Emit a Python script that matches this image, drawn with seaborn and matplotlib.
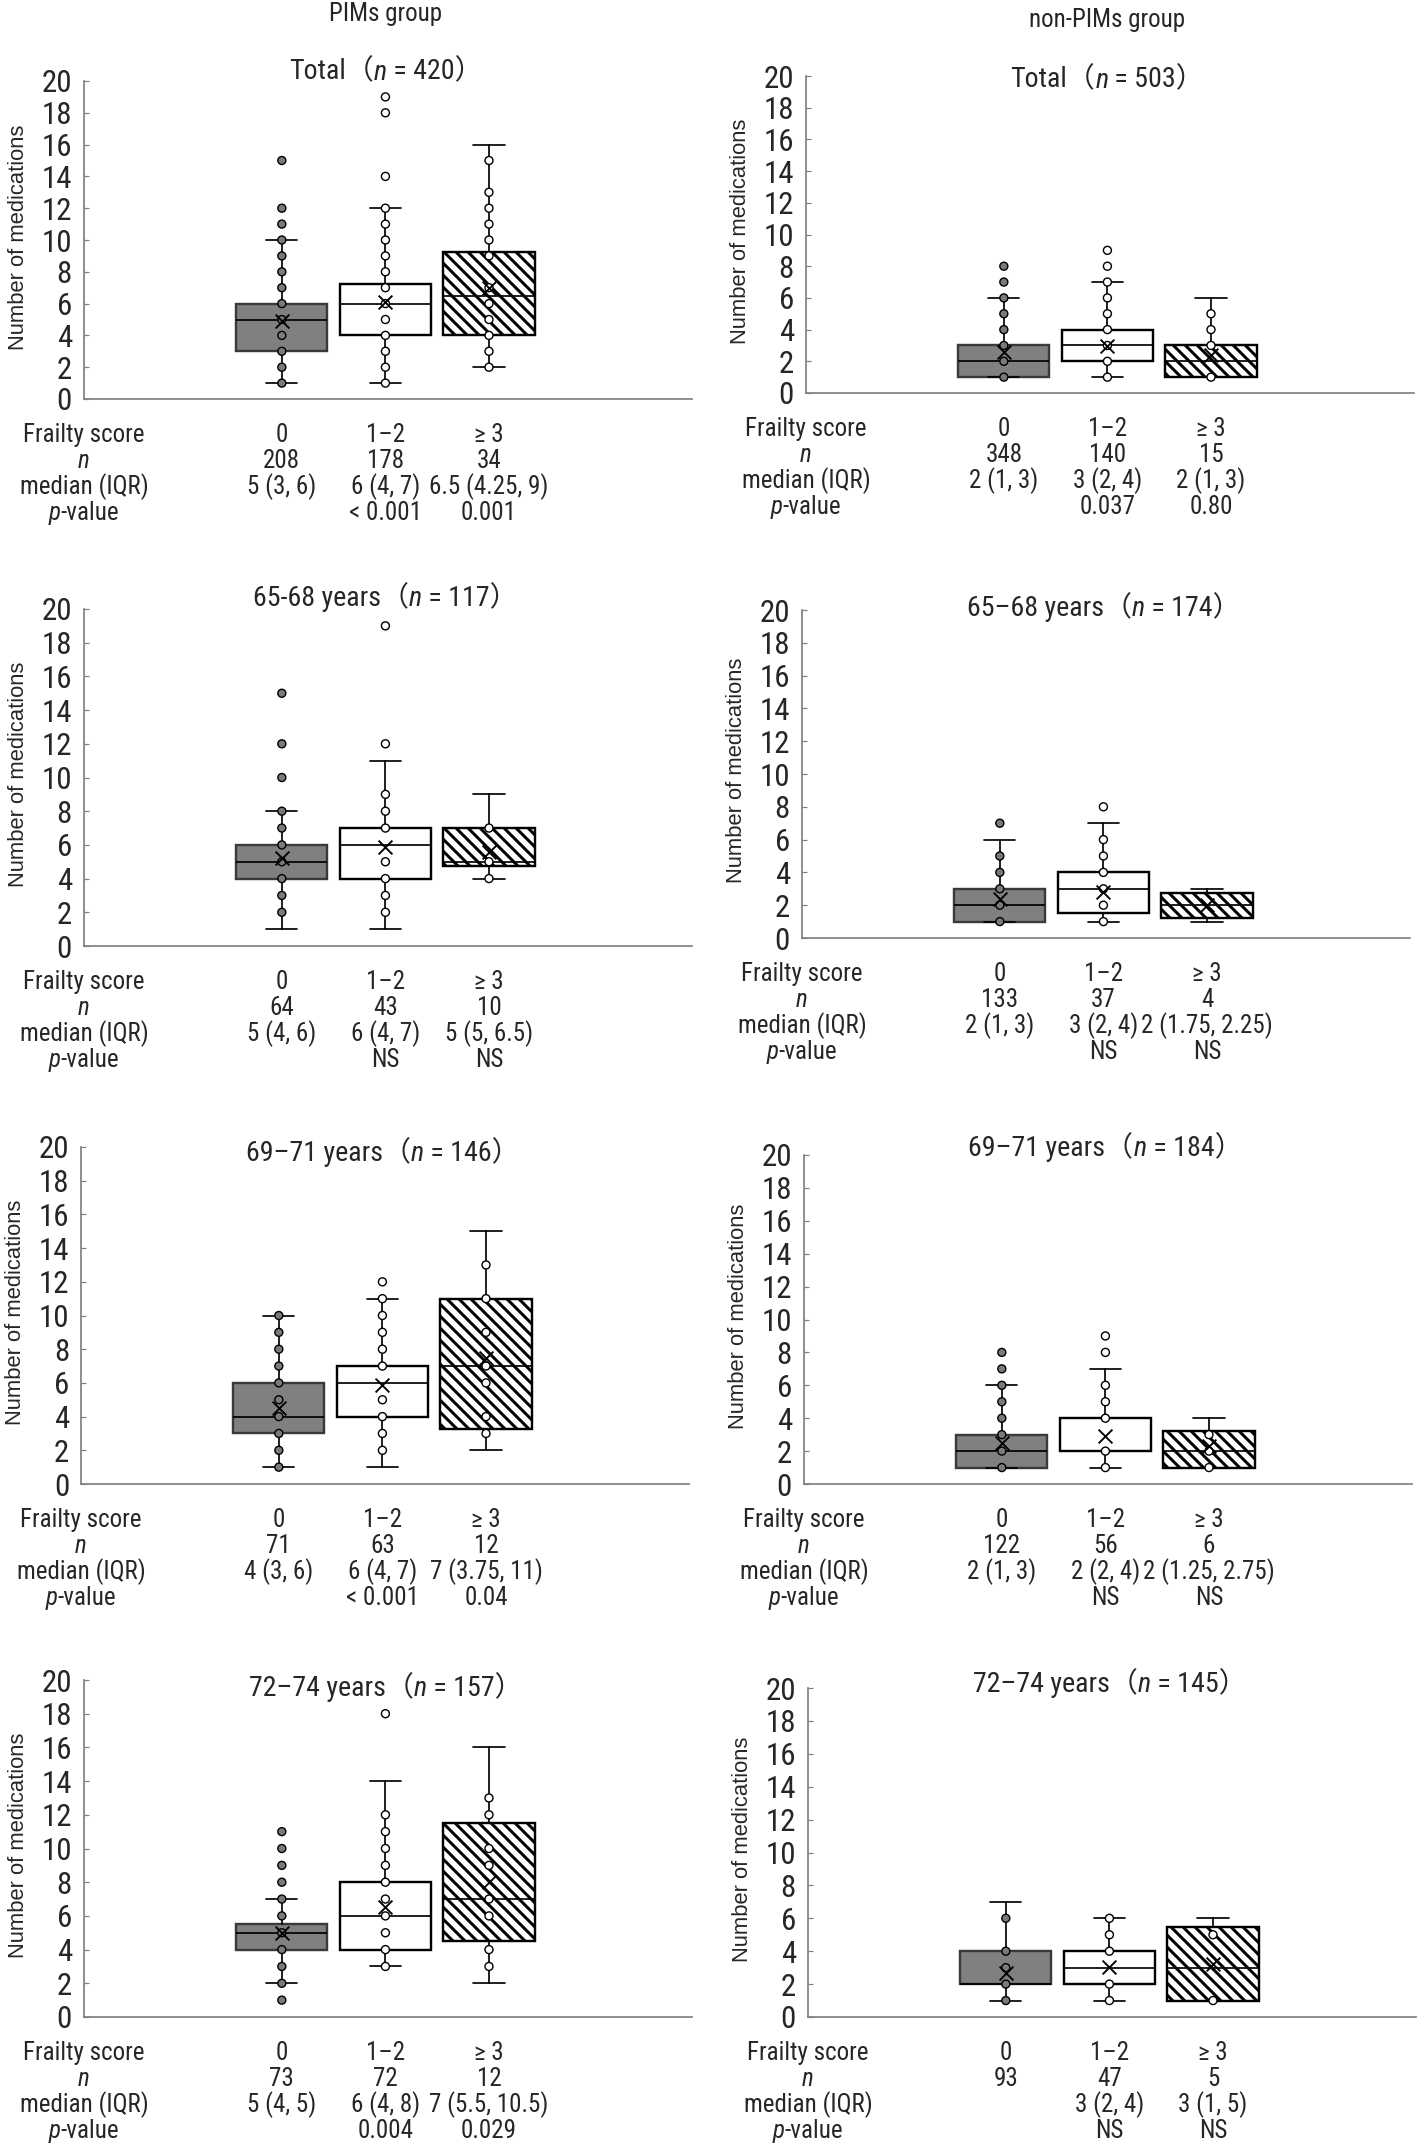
import numpy as np
import pandas as pd
import matplotlib
matplotlib.use("Agg")
import matplotlib.pyplot as plt
import seaborn as sns
from matplotlib.offsetbox import TextArea, HPacker, AnnotationBbox

# categories and row labels
frailty = ["0", "1–2", "≥ 3"]
row_names = ["Frailty score", "n", "median (IQR)", "p-value"]

# box stats per category: [whisker low, Q1, median, Q3, whisker high]
# PIMs group, total
pims_total_box = [[1, 3, 5, 6, 10], [1, 4, 6, 7.25, 12], [2, 4, 6.5, 9.25, 16]]
pims_total_mean = [4.9, 6.1, 7.0]
pims_total_pts = [[1, 2, 3, 4, 5, 6, 7, 8, 9, 10, 11, 12, 15],
                  [1, 2, 3, 4, 5, 6, 7, 8, 9, 10, 11, 12, 14, 18, 19],
                  [2, 3, 4, 5, 6, 7, 9, 10, 11, 12, 13, 15]]
pims_total_n = [208, 178, 34]
pims_total_iqr = ["5 (3, 6)", "6 (4, 7)", "6.5 (4.25, 9)"]
pims_total_p = ["", "< 0.001", "0.001"]

# non-PIMs group, total
non_total_box = [[1, 1, 2, 3, 6], [1, 2, 3, 4, 7], [1, 1, 2, 3, 6]]
non_total_mean = [2.6, 2.95, 2.4]
non_total_pts = [[1, 2, 3, 4, 5, 6, 7, 8], [1, 2, 3, 4, 5, 6, 7, 8, 9], [1, 3, 4, 5]]
non_total_n = [348, 140, 15]
non_total_iqr = ["2 (1, 3)", "3 (2, 4)", "2 (1, 3)"]
non_total_p = ["", "0.037", "0.80"]

# PIMs 65-68
pims_6568_box = [[1, 4, 5, 6, 8], [1, 4, 6, 7, 11], [4, 4.75, 5, 7, 9]]
pims_6568_mean = [5.2, 5.9, 5.6]
pims_6568_pts = [[2, 3, 4, 5, 6, 7, 8, 10, 12, 15], [2, 3, 4, 5, 7, 8, 9, 12, 19], [4, 5, 7]]
pims_6568_n = [64, 43, 10]
pims_6568_iqr = ["5 (4, 6)", "6 (4, 7)", "5 (5, 6.5)"]
pims_6568_p = ["", "NS", "NS"]

# non-PIMs 65-68
non_6568_box = [[1, 1, 2, 3, 6], [1, 1.5, 3, 4, 7], [1, 1.25, 2, 2.75, 3]]
non_6568_mean = [2.4, 2.8, 2.0]
non_6568_pts = [[1, 2, 3, 4, 5, 7], [1, 2, 3, 4, 5, 6, 8], []]
non_6568_n = [133, 37, 4]
non_6568_iqr = ["2 (1, 3)", "3 (2, 4)", "2 (1.75, 2.25)"]
non_6568_p = ["", "NS", "NS"]

# PIMs 69-71
pims_6971_box = [[1, 3, 4, 6, 10], [1, 4, 6, 7, 11], [2, 3.25, 7, 11, 15]]
pims_6971_mean = [4.5, 5.9, 7.5]
pims_6971_pts = [[1, 2, 3, 4, 5, 6, 7, 8, 9, 10],
                 [2, 3, 4, 5, 7, 8, 9, 10, 11, 12],
                 [3, 4, 6, 7, 9, 11, 13]]
pims_6971_n = [71, 63, 12]
pims_6971_iqr = ["4 (3, 6)", "6 (4, 7)", "7 (3.75, 11)"]
pims_6971_p = ["", "< 0.001", "0.04"]

# non-PIMs 69-71
non_6971_box = [[1, 1, 2, 3, 6], [1, 2, 2, 4, 7], [1, 1, 2, 3.25, 4]]
non_6971_mean = [2.5, 2.9, 2.3]
non_6971_pts = [[1, 2, 3, 4, 5, 6, 7, 8], [1, 2, 4, 5, 6, 8, 9], [1, 2, 3]]
non_6971_n = [122, 56, 6]
non_6971_iqr = ["2 (1, 3)", "2 (2, 4)", "2 (1.25, 2.75)"]
non_6971_p = ["", "NS", "NS"]

# PIMs 72-74
pims_7274_box = [[2, 4, 5, 5.5, 7], [3, 4, 6, 8, 14], [2, 4.5, 7, 11.5, 16]]
pims_7274_mean = [5.0, 6.5, 8.0]
pims_7274_pts = [[1, 2, 3, 4, 5, 6, 7, 8, 9, 10, 11],
                 [3, 4, 5, 6, 7, 8, 9, 10, 11, 12, 18],
                 [3, 4, 6, 7, 9, 10, 12, 13]]
pims_7274_n = [73, 72, 12]
pims_7274_iqr = ["5 (4, 5)", "6 (4, 8)", "7 (5.5, 10.5)"]
pims_7274_p = ["", "0.004", "0.029"]

# non-PIMs 72-74
non_7274_box = [[1, 2, 2, 4, 7], [1, 2, 3, 4, 6], [1, 1, 3, 5.5, 6]]
non_7274_mean = [2.7, 3.05, 3.2]
non_7274_pts = [[1, 2, 3, 4, 6], [1, 2, 4, 5, 6], [1, 5]]
non_7274_n = [93, 47, 5]
non_7274_iqr = ["", "3 (2, 4)", "3 (1, 5)"]
non_7274_p = ["", "NS", "NS"]

titles = [("Total", 420), ("Total", 503), ("65-68 years", 117), ("65–68 years", 174),
          ("69–71 years", 146), ("69–71 years", 184), ("72–74 years", 157), ("72–74 years", 145)]

panels = [
    (pims_total_box, pims_total_mean, pims_total_pts, pims_total_n, pims_total_iqr, pims_total_p),
    (non_total_box, non_total_mean, non_total_pts, non_total_n, non_total_iqr, non_total_p),
    (pims_6568_box, pims_6568_mean, pims_6568_pts, pims_6568_n, pims_6568_iqr, pims_6568_p),
    (non_6568_box, non_6568_mean, non_6568_pts, non_6568_n, non_6568_iqr, non_6568_p),
    (pims_6971_box, pims_6971_mean, pims_6971_pts, pims_6971_n, pims_6971_iqr, pims_6971_p),
    (non_6971_box, non_6971_mean, non_6971_pts, non_6971_n, non_6971_iqr, non_6971_p),
    (pims_7274_box, pims_7274_mean, pims_7274_pts, pims_7274_n, pims_7274_iqr, pims_7274_p),
    (non_7274_box, non_7274_mean, non_7274_pts, non_7274_n, non_7274_iqr, non_7274_p),
]

# layout in pixels (figure is drawn at 72 dpi, so 1 pt = 1 px)
W, H = 1418, 2144
ax_w = 608
panel_x0 = [84, 806, 84, 802, 81, 804, 84, 808]
panel_top = [81, 76, 609, 610, 1147, 1155, 1680, 1688]
panel_bot = [399, 393, 946, 938, 1484, 1484, 2017, 2017]
title_off = [9, -4, 12, 3, -5, 8, -7, 5]
row_off = [36, 62, 88, 114]

sns.set_style("white")
fams = ["Liberation Sans Narrow", "Roboto Condensed", "Noto Sans Condensed",
        "Open Sans Condensed", "Liberation Sans", "Noto Sans CJK JP", "DejaVu Sans"]
plt.rcParams["font.family"] = fams
plt.rcParams["hatch.linewidth"] = 3.0
plt.rcParams["hatch.color"] = "black"

box_fill = ["#808080", "white", "white"]
box_hatch = [None, None, "\\\\"]
box_edge = ["#3a3a3a", "black", "black"]
dot_fill = {"0": "#7a7a7a", "1–2": "white", "≥ 3": "white"}
fs = 25

fig = plt.figure(figsize=(W / 72, H / 72), dpi=72)


def italic_prefix(ax, parts, xy, xycoords, offset, size=fs):
    kids = []
    for txt, ital in parts:
        kids.append(TextArea(txt, textprops=dict(fontsize=size, family=fams,
                                                 style="italic" if ital else "normal")))
    pack = HPacker(children=kids, align="baseline", pad=0, sep=0)
    ab = AnnotationBbox(pack, xy, xycoords=xycoords, xybox=offset, boxcoords="offset points",
                        frameon=False, box_alignment=(0.5, 0.5), pad=0, annotation_clip=False)
    ax.add_artist(ab)


for i, (box, mean, pts, n, iqr, pv) in enumerate(panels):
    x0, top, bot = panel_x0[i], panel_top[i], panel_bot[i]
    ax = fig.add_axes([x0 / W, 1 - bot / H, ax_w / W, (bot - top) / H])

    stats = [dict(whislo=b[0], q1=b[1], med=b[2], q3=b[3], whishi=b[4]) for b in box]
    arts = ax.bxp(stats, positions=[0, 1, 2], widths=0.88, capwidths=0.3, patch_artist=True,
                  showfliers=False,
                  boxprops=dict(linewidth=2.4),
                  whiskerprops=dict(color="black", linewidth=1.7),
                  capprops=dict(color="black", linewidth=1.7),
                  medianprops=dict(color="black", linewidth=1.7))
    for patch, fc, h, ec in zip(arts["boxes"], box_fill, box_hatch, box_edge):
        patch.set_facecolor(fc)
        patch.set_edgecolor(ec)
        if h:
            patch.set_hatch(h)

    df = pd.DataFrame({
        "frailty": [frailty[k] for k, p in enumerate(pts) for _ in p],
        "pos": [k for k, p in enumerate(pts) for _ in p],
        "value": [v for p in pts for v in p],
    })
    sns.stripplot(data=df, x="pos", y="value", hue="frailty", hue_order=frailty,
                  palette=dot_fill, native_scale=True, jitter=False, size=8,
                  linewidth=1.4, edgecolor="black", legend=False, ax=ax, zorder=4)
    sns.scatterplot(x=[0, 1, 2], y=mean, marker="x", color="black", s=190,
                    linewidth=1.9, ax=ax, zorder=5, legend=False)

    ax.set_xlim(-1.91, 3.96)
    ax.set_ylim(0, 20)
    ax.set_yticks(range(0, 21, 2))
    ax.set_xticks([])
    ax.set_xlabel("")
    ax.set_ylabel("Number of medications", fontsize=22,
                  family=["Liberation Sans", "DejaVu Sans"])
    ax.yaxis.set_label_coords(-55 / ax_w, 0.51)
    ax.tick_params(axis="y", direction="in", length=5, width=1.2, color="#7f7f7f",
                   labelsize=31, pad=12, left=True)
    sns.despine(ax=ax)
    for s in ["left", "bottom"]:
        ax.spines[s].set_color("#7f7f7f")
        ax.spines[s].set_linewidth(1.7)

    # panel title centred over the middle category
    label, total = titles[i]
    italic_prefix(ax, [(label + "（", False), ("n", True), (f" = {total}）", False)],
                  (1, 1), ("data", "axes fraction"), (0, title_off[i]), size=28)

    # group heading above the first row
    if i < 2:
        ax.annotate(["PIMs group", "non-PIMs group"][i], xy=(1, 1),
                    xycoords=("data", "axes fraction"), xytext=(0, 67 if i == 0 else 56),
                    textcoords="offset points", ha="center", va="center", fontsize=25)

    # table below the axis
    rows = [frailty, [str(v) for v in n], iqr, pv]
    for r, vals in enumerate(rows):
        if r == 1:
            ax.annotate("n", xy=(0, 0), xycoords="axes fraction", xytext=(0, -row_off[r]),
                        textcoords="offset points", ha="center", va="center",
                        fontsize=fs, style="italic")
        elif r == 3:
            italic_prefix(ax, [("p", True), ("-value", False)], (0, 0), "axes fraction",
                          (0, -row_off[r]))
        else:
            ax.annotate(row_names[r], xy=(0, 0), xycoords="axes fraction",
                        xytext=(0, -row_off[r]), textcoords="offset points",
                        ha="center", va="center", fontsize=fs)
        for k, v in enumerate(vals):
            ax.annotate(v, xy=(k, 0), xycoords=("data", "axes fraction"),
                        xytext=(0, -row_off[r]), textcoords="offset points",
                        ha="center", va="center", fontsize=fs)

fig.savefig("out.png", dpi=72, facecolor="white")
